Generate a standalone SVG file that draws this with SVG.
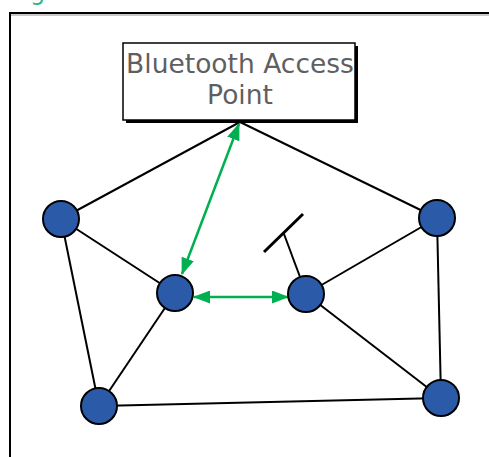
<svg xmlns="http://www.w3.org/2000/svg" width="489" height="457" viewBox="0 0 489 457">
<style>
.edge{stroke:#000;stroke-width:2;fill:none}
.g{stroke:#00b050;stroke-width:2.5;fill:none;marker-start:url(#ah);marker-end:url(#ah)}
.node{fill:#2b5ba8;stroke:#000;stroke-width:2}
.lbl{font-family:"DejaVu Sans",Verdana,sans-serif;font-size:26.5px;fill:#5f5f5f;text-anchor:middle}
</style>
<defs>
<marker id="ah" viewBox="0 0 17 13" refX="16" refY="6.5" markerWidth="17" markerHeight="13" orient="auto-start-reverse" markerUnits="userSpaceOnUse">
<path d="M0,0 L17,6.5 L0,13 z" fill="#00b050"/>
</marker>
</defs>
<rect width="489" height="457" fill="#fff"/>
<text x="30" y="0" font-family="DejaVu Sans,sans-serif" font-size="24" fill="#2db38a">g</text>
<g id="frame">
<line x1="10" y1="15" x2="489" y2="15" stroke="#c8c8c8" stroke-width="2"/>
<line x1="9" y1="13" x2="489" y2="13" stroke="#000" stroke-width="2"/>
<line x1="10" y1="12" x2="10" y2="457" stroke="#000" stroke-width="2"/>
</g>
<g id="connectors">
<line class="edge" x1="240" y1="122" x2="61" y2="219"/>
<line class="edge" x1="240" y1="122" x2="437" y2="218"/>
<line class="edge" x1="61" y1="219" x2="175" y2="293"/>
<line class="edge" x1="61" y1="219" x2="99" y2="406"/>
<line class="edge" x1="175" y1="293" x2="99" y2="406"/>
<line class="edge" x1="306" y1="294" x2="437" y2="218"/>
<line class="edge" x1="306" y1="294" x2="441" y2="398"/>
<line class="edge" x1="437" y1="218" x2="441" y2="398"/>
<line class="edge" x1="99" y1="406" x2="441" y2="398"/>
<line class="g" x1="239" y1="124" x2="182" y2="274"/>
<line class="g" x1="194" y1="297" x2="288" y2="297"/>
</g>
<g id="antenna">
<line class="edge" x1="284" y1="234" x2="300" y2="277"/>
<line x1="264" y1="252" x2="303" y2="214" stroke="#000" stroke-width="3"/>
</g>
<g id="ap">
<rect x="126" y="46" width="232" height="77" fill="#000"/>
<rect x="123" y="43" width="232" height="77" fill="#fff" stroke="#000" stroke-width="1.5"/>
<text class="lbl" x="240" y="73">Bluetooth Access</text>
<text class="lbl" x="240" y="104">Point</text>
</g>
<g id="nA"><circle class="node" cx="61" cy="219" r="18"/></g>
<g id="nB"><circle class="node" cx="175" cy="293" r="18"/></g>
<g id="nC"><circle class="node" cx="306" cy="294" r="18"/></g>
<g id="nD"><circle class="node" cx="437" cy="218" r="18"/></g>
<g id="nE"><circle class="node" cx="99" cy="406" r="18"/></g>
<g id="nF"><circle class="node" cx="441" cy="398" r="18"/></g>
</svg>
